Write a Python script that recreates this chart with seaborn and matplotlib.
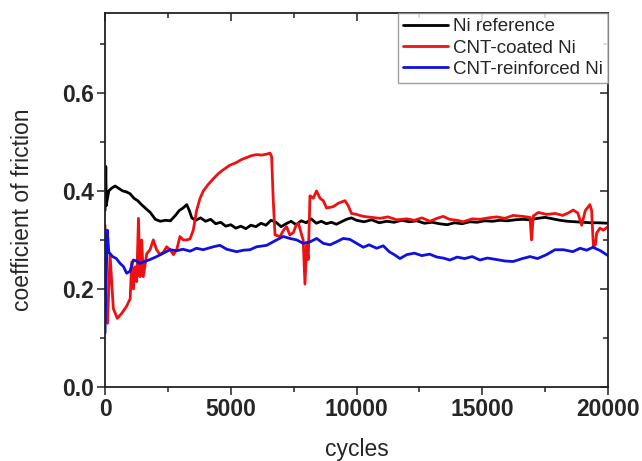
import matplotlib
matplotlib.use("Agg")
import matplotlib.pyplot as plt
from matplotlib.ticker import MultipleLocator, FormatStrFormatter
import numpy as np
import pandas as pd
import seaborn as sns

# Ni reference (black)
ni_x = [0, 30, 50, 80, 150, 250, 400, 550, 700, 850, 1000, 1150, 1300, 1450, 1600, 1800,
        2000, 2200, 2400, 2600, 2800, 2950, 3100, 3250, 3350, 3450, 3600, 3800, 4000, 4200,
        4400, 4600, 4800, 5000, 5200, 5400, 5600, 5800, 6000, 6200, 6400, 6600, 6800, 7000,
        7200, 7400, 7600, 7800, 8000, 8200, 8400, 8600, 8800, 9000, 9200, 9400, 9600, 9800,
        10000, 10300, 10600, 10900, 11200, 11500, 11800, 12100, 12400, 12700, 13000, 13300,
        13600, 13900, 14200, 14500, 14800, 15100, 15400, 15700, 16000, 16300, 16600, 16900,
        17200, 17500, 17800, 18100, 18400, 18700, 19000, 19300, 19600, 20000]
ni_y = [0.36, 0.45, 0.37, 0.38, 0.40, 0.405, 0.41, 0.405, 0.40, 0.398, 0.394, 0.385, 0.38,
        0.372, 0.365, 0.356, 0.342, 0.338, 0.34, 0.339, 0.35, 0.36, 0.365, 0.372, 0.36, 0.345,
        0.34, 0.345, 0.338, 0.342, 0.333, 0.336, 0.328, 0.331, 0.324, 0.328, 0.323, 0.33, 0.327,
        0.334, 0.33, 0.34, 0.336, 0.327, 0.333, 0.338, 0.331, 0.339, 0.335, 0.343, 0.334, 0.338,
        0.333, 0.336, 0.332, 0.337, 0.342, 0.345, 0.34, 0.337, 0.341, 0.335, 0.338, 0.336, 0.34,
        0.337, 0.339, 0.334, 0.336, 0.333, 0.331, 0.335, 0.333, 0.337, 0.336, 0.339, 0.338, 0.34,
        0.339, 0.341, 0.342, 0.341, 0.344, 0.346, 0.343, 0.34, 0.338, 0.337, 0.336, 0.335, 0.335,
        0.334]

# CNT-coated Ni (red)
coated_x = [0, 30, 100, 200, 330, 490, 660, 860, 1000, 1060, 1130, 1190, 1260, 1330, 1390,
            1460, 1520, 1660, 1790, 1920, 2050, 2190, 2320, 2450, 2590, 2720, 2850, 2980, 3110,
            3250, 3380, 3510, 3640, 3780, 3910, 4100, 4310, 4500, 4700, 4950, 5230, 5430, 5630,
            5830, 6030, 6230, 6430, 6560, 6625, 6690, 6760, 6960, 7100, 7220, 7350, 7490, 7600,
            7690, 7820, 7880, 7950, 8020, 8080, 8150, 8280, 8410, 8550, 8680, 8810, 9080, 9280,
            9540, 9670, 9800, 10000, 10270, 10600, 10935, 11250, 11600, 12000, 12300, 12600,
            12920, 13200, 13450, 13700, 14000, 14250, 14600, 14910, 15250, 15570, 15900, 16230,
            16600, 16900, 16960, 17030, 17230, 17560, 17900, 18200, 18420, 18620, 18800, 18953,
            19100, 19283, 19350, 19420, 19500, 19550, 19680, 19815, 20000]
coated_y = [0.33, 0.14, 0.13, 0.27, 0.16, 0.14, 0.15, 0.165, 0.18, 0.255, 0.20, 0.245, 0.215,
            0.344, 0.225, 0.30, 0.225, 0.272, 0.28, 0.30, 0.28, 0.27, 0.275, 0.286, 0.28, 0.27,
            0.28, 0.307, 0.30, 0.30, 0.302, 0.32, 0.36, 0.385, 0.40, 0.413, 0.425, 0.435, 0.443,
            0.452, 0.458, 0.464, 0.468, 0.472, 0.474, 0.473, 0.475, 0.477, 0.47, 0.38, 0.31,
            0.307, 0.32, 0.327, 0.31, 0.315, 0.33, 0.334, 0.31, 0.30, 0.21, 0.29, 0.26, 0.39,
            0.385, 0.40, 0.385, 0.38, 0.365, 0.368, 0.375, 0.38, 0.37, 0.354, 0.352, 0.348,
            0.346, 0.344, 0.347, 0.341, 0.343, 0.34, 0.345, 0.338, 0.344, 0.348, 0.342, 0.34,
            0.337, 0.343, 0.342, 0.345, 0.347, 0.344, 0.35, 0.348, 0.346, 0.30, 0.349, 0.356,
            0.352, 0.354, 0.35, 0.355, 0.361, 0.355, 0.33, 0.36, 0.372, 0.36, 0.286, 0.29, 0.314,
            0.324, 0.32, 0.327]

# CNT-reinforced Ni (blue)
reinf_x = [0, 90, 150, 300, 450, 600, 730, 860, 990, 1126, 1260, 1390, 1524, 1790, 2054, 2320,
           2584, 2850, 3100, 3380, 3640, 3900, 4306, 4570, 4840, 5234, 5500, 5760, 6030, 6430,
           6824, 7089, 7350, 7620, 7884, 8150, 8414, 8680, 8950, 9200, 9474, 9740, 10004, 10270,
           10500, 10800, 11066, 11300, 11500, 11729, 12000, 12300, 12600, 12900, 13200, 13450,
           13717, 14000, 14300, 14600, 14910, 15200, 15570, 15900, 16230, 16600, 16900, 17200,
           17560, 17893, 18230, 18600, 18890, 19150, 19400, 19700, 20000]
reinf_y = [0.11, 0.32, 0.275, 0.266, 0.262, 0.252, 0.246, 0.232, 0.236, 0.259, 0.257, 0.252,
           0.255, 0.26, 0.266, 0.273, 0.28, 0.278, 0.281, 0.277, 0.283, 0.28, 0.286, 0.289,
           0.281, 0.276, 0.279, 0.28, 0.286, 0.289, 0.30, 0.307, 0.303, 0.30, 0.293, 0.296,
           0.303, 0.293, 0.29, 0.296, 0.303, 0.301, 0.293, 0.285, 0.29, 0.283, 0.288, 0.276,
           0.27, 0.262, 0.27, 0.273, 0.268, 0.271, 0.265, 0.263, 0.259, 0.265, 0.262, 0.266,
           0.259, 0.263, 0.26, 0.257, 0.256, 0.262, 0.266, 0.262, 0.27, 0.28, 0.28, 0.276,
           0.283, 0.279, 0.285, 0.278, 0.268]

labels = ["Ni reference", "CNT-coated Ni", "CNT-reinforced Ni"]
colors = ["#000000", "#ee1111", "#1111dd"]

frames = []
for lab, xs, ys in zip(labels, [ni_x, coated_x, reinf_x], [ni_y, coated_y, reinf_y]):
    frames.append(pd.DataFrame({"cycles": xs, "cof": ys, "sample": lab}))
df = pd.concat(frames, ignore_index=True)

sns.set_style("ticks")
plt.rcParams["font.family"] = ["Liberation Sans", "DejaVu Sans"]

fig = plt.figure(figsize=(6.42, 4.61), dpi=100)
ax = fig.add_axes([0.1636, 0.1605, 0.947 - 0.1636, 0.972 - 0.1605])

sns.lineplot(data=df, x="cycles", y="cof", hue="sample", hue_order=labels,
             palette=colors, estimator=None, sort=False, linewidth=2.0, ax=ax)

ax.set_xlim(0, 20000)
ax.set_ylim(0, 0.763)
ax.xaxis.set_major_locator(MultipleLocator(5000))
ax.xaxis.set_minor_locator(MultipleLocator(2500))
ax.yaxis.set_major_locator(MultipleLocator(0.2))
ax.yaxis.set_minor_locator(MultipleLocator(0.1))
ax.yaxis.set_major_formatter(FormatStrFormatter("%.1f"))

for s in ax.spines.values():
    s.set_linewidth(1.3)
    s.set_color("#222222")

ax.tick_params(which="both", top=True, right=True, width=1.1, color="#222222")
ax.tick_params(which="major", length=6, labelsize=16.5, pad=2)
ax.tick_params(which="minor", length=3.5)
for lbl in ax.get_xticklabels() + ax.get_yticklabels():
    lbl.set_fontweight("bold")

# inward ticks on top and right, outward on bottom and left
for t in ax.xaxis.get_major_ticks() + ax.xaxis.get_minor_ticks():
    t.tick2line.set_marker(matplotlib.lines.TICKDOWN)
for t in ax.yaxis.get_major_ticks() + ax.yaxis.get_minor_ticks():
    t.tick2line.set_marker(matplotlib.lines.TICKLEFT)

ax.set_xlabel("cycles", fontsize=16.5, va="center")
ax.set_ylabel("coefficient of friction", fontsize=16.5, va="center")
ax.xaxis.set_label_coords(0.5, -0.168)
ax.yaxis.set_label_coords(-0.165, 0.473)

leg = ax.legend(loc="upper right", fontsize=13.5, frameon=True, fancybox=False,
                borderaxespad=0, handlelength=2.4, handletextpad=0.25,
                labelspacing=0.22, borderpad=0.28)
leg.get_frame().set_edgecolor("#888888")
leg.get_frame().set_linewidth(1.0)
for line in leg.get_lines():
    line.set_linewidth(2.0)

fig.savefig("out.png", dpi=100)
